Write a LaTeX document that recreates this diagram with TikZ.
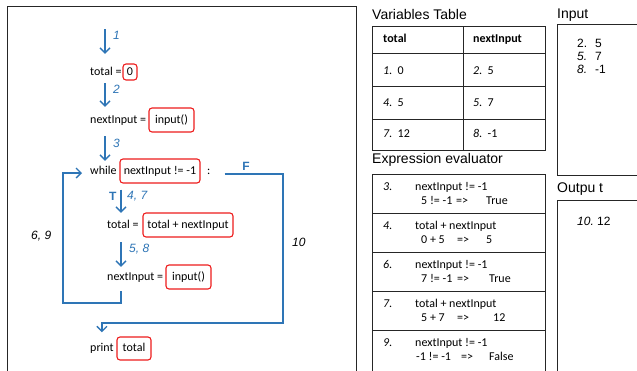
\documentclass[tikz,border=0pt]{standalone}
\usepackage{fontspec}
\setmainfont{Carlito}
\newfontfamily\arialf{Liberation Sans}
\usetikzlibrary{arrows.meta}
\definecolor{flowblue}{HTML}{2E75B6}
\definecolor{boxred}{HTML}{EE1C1C}
\tikzset{
 code/.style={inner sep=0pt, text height=9pt, text depth=3pt, font=\fontsize{12}{14}\selectfont},
 rbox/.style={code, draw=boxred, line width=1.1pt, rounded corners=3pt, minimum height=24pt},
 flow/.style={draw=flowblue, line width=1.4pt, -{Straight Barb[length=5pt,width=10pt]}},
 lbl/.style={inner sep=0pt, anchor=west, text=flowblue, font=\arialf\itshape\fontsize{12}{14}\selectfont},
 tlbl/.style={inner sep=0pt, text=flowblue, font=\arialf\bfseries\fontsize{12}{14}\selectfont},
 blbl/.style={inner sep=0pt, anchor=west, font=\arialf\itshape\fontsize{12}{14}\selectfont},
 head/.style={inner sep=0pt, anchor=west, font=\arialf\fontsize{14}{16}\selectfont},
 cell/.style={inner sep=0pt, anchor=west, text height=9pt, text depth=3pt, font=\fontsize{12}{14}\selectfont},
 acell/.style={inner sep=0pt, anchor=west, text height=9pt, text depth=3pt, font=\arialf\fontsize{12}{14}\selectfont},
 frame/.style={draw=black!85, line width=0.9pt},
}
\begin{document}
\begin{tikzpicture}[x=1pt,y=-1pt]
\useasboundingbox (0,0) rectangle (637,370);
\clip (0,0) rectangle (637,370);
\fill[white] (0,0) rectangle (637,370);

% left frame
\draw[frame] (7,385) -- (7,6) -- (356,6) -- (356,385);

% helper coordinates
\coordinate (L1) at (90,0);
\coordinate (L2) at (107,0);
\coordinate (CX) at (207,0);
\coordinate (ax) at (105,0);
\coordinate (bx) at (121,0);
\coordinate (s0) at (105,29);
\coordinate (lb) at (63,303);
\coordinate (fr) at (283,323);

% red boxes
\node[rbox, minimum width=14pt, minimum height=16pt] (b0) at (130,72) {0};
\node[rbox, minimum width=45pt] (b1) at (171.5,120) {input()};
\node[rbox, minimum width=80pt] (b2) at (160,171) {nextInput != -1};
\node[rbox, minimum width=90pt] (b3) at (188,225) {total + nextInput};
\node[rbox, minimum width=45pt] (b4) at (188.5,277) {input()};
\node[rbox, minimum width=34pt, minimum height=23pt] (b5) at (134,348.5) {total};

% code text
\node[code, anchor=base west] (t0) at (b0.base -| L1) {total =};
\node[code, anchor=base west] (t1) at (b1.base -| L1) {nextInput =};
\node[code, anchor=base west] (t2) at (b2.base -| L1) {while};
\node[code, anchor=base west] (colon) at (b2.base -| CX) {:};
\node[code, anchor=base west] (t3) at (b3.base -| L2) {total =};
\node[code, anchor=base west] (t4) at (b4.base -| L2) {nextInput =};
\node[code, anchor=base west] (t5) at (b5.base -| L1) {print};

% flow arrows
\draw[flow, shorten >=12pt] (s0) -- (s0 |- t0.north);
\draw[flow, shorten <=5pt, shorten >=7pt] (t0.south -| ax) -- (t1.north -| ax);
\draw[flow, shorten <=10pt, shorten >=4pt] (t1.south -| ax) -- (t2.north -| ax);
\draw[flow, shorten <=6pt, shorten >=6pt] (b2.south -| bx) -- (t3.north -| bx);
\draw[flow, shorten <=11pt, shorten >=4pt] (t3.south -| bx) -- (t4.north -| bx);
\draw[flow, shorten <=8pt, shorten >=8pt] (t4.south -| bx) |- (lb) |- ([yshift=-2pt]t2.west);
\draw[flow, shorten >=10pt] ([xshift=14pt,yshift=-3pt]colon.east) -| (fr) -| (t5.north);

% flow labels
\node[lbl] (n1) at (113,35) {1};
\node[lbl] (n2) at (113,89) {2};
\node[lbl] (n3) at (113,143) {3};
\node[tlbl, anchor=west] (nT) at (109,196) {T};
\node[lbl] (n47) at (127,196) {4, 7};
\node[lbl] (n58) at (129,249) {5, 8};
\node[tlbl] (nF) at (246,166) {F};
\node[blbl] (n69) at (31,236) {6, 9};
\node[blbl] (n10) at (292,242) {10};

% Variables table
\node[head] (hv) at (372,14) {Variables Table};
\draw[frame] (372,26) rectangle (545,150);
\draw[frame] (463,26) -- (463,150);
\draw[frame] (372,53) -- (545,53);
\draw[frame] (372,86) -- (545,86);
\draw[frame] (372,119) -- (545,119);
\node[cell, font=\bfseries\fontsize{12}{14}\selectfont] (v00) at (383,39.5) {total};
\node[cell, font=\bfseries\fontsize{12}{14}\selectfont] (v01) at (473,39.5) {nextInput};
\node[cell] (v10) at (383,71) {\textit{1.}\ \ 0};
\node[cell] (v11) at (473,71) {\textit{2.}\ \ 5};
\node[cell] (v20) at (383,103) {\textit{4.}\ \ 5};
\node[cell] (v21) at (473,103) {\textit{5.}\ \ 7};
\node[cell] (v30) at (383,134) {\textit{7.}\ \ 12};
\node[cell] (v31) at (473,134) {\textit{8.}\ \ -1};

% Expression evaluator
\node[head] (he) at (372,160) {Expression evaluator};
\draw[frame] (372,385) -- (372,174) -- (545,174) -- (545,385);
\draw[frame] (372,213) -- (545,213);
\draw[frame] (372,252) -- (545,252);
\draw[frame] (372,291) -- (545,291);
\draw[frame] (372,330) -- (545,330);

\node[cell] (e1n) at (383,187) {\textit{3.}};
\node[cell] (e1a) at (415,187) {nextInput != -1};
\node[cell] (e1b) at (421,201) {5 != -1};
\node[cell] (e1c) at (456,201) {=>};
\node[cell] (e1d) at (486,201) {True};

\node[cell] (e2n) at (383,226) {\textit{4.}};
\node[cell] (e2a) at (415,226) {total + nextInput};
\node[cell] (e2b) at (421,240) {0 + 5};
\node[cell] (e2c) at (457,240) {=>};
\node[cell] (e2d) at (486,240) {5};

\node[cell] (e3n) at (383,265) {\textit{6.}};
\node[cell] (e3a) at (415,265) {nextInput != -1};
\node[cell] (e3b) at (421,279) {7 != -1};
\node[cell] (e3c) at (457,279) {=>};
\node[cell] (e3d) at (489,279) {True};

\node[cell] (e4n) at (383,304) {\textit{7.}};
\node[cell] (e4a) at (415,304) {total + nextInput};
\node[cell] (e4b) at (421,318) {5 + 7};
\node[cell] (e4c) at (457,318) {=>};
\node[cell] (e4d) at (493,318) {12};

\node[cell] (e5n) at (383,343) {\textit{9.}};
\node[cell] (e5a) at (415,343) {nextInput != -1};
\node[cell] (e5b) at (416,357) {-1 != -1};
\node[cell] (e5c) at (461,357) {=>};
\node[cell] (e5d) at (489,357) {False};

% Input box
\node[head] (hi) at (557,15) {Input};
\draw[frame] (645,24) -- (557,24) -- (557,175) -- (645,175);
\node[acell] (i1a) at (577,44) {2.};
\node[acell] (i1b) at (595,44) {5};
\node[acell] (i2a) at (577,57) {\textit{5.}};
\node[acell] (i2b) at (595,57) {7};
\node[acell] (i3a) at (577,70) {\textit{8.}};
\node[acell] (i3b) at (595,70) {-1};

% Output box
\node[head] (ho) at (557,189) {Outpu t};
\draw[frame] (645,200) -- (557,200) -- (557,385);
\node[acell] (o1) at (577,222) {\textit{10.}\ 12};
\end{tikzpicture}
\end{document}
